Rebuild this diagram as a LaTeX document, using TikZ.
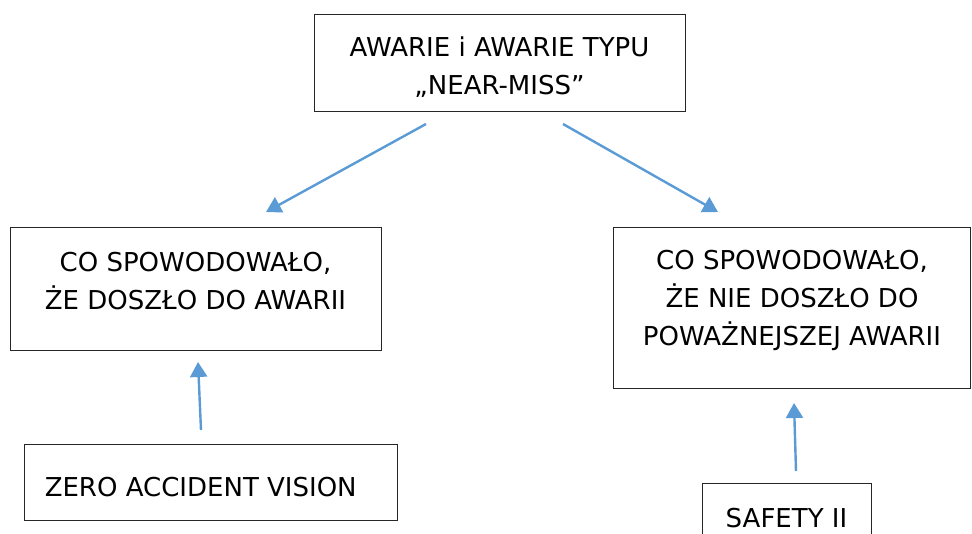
\documentclass[tikz,border=0pt]{standalone}
\usepackage{fontspec}
\setmainfont{DejaVu Sans}
\usetikzlibrary{arrows.meta}
\definecolor{arrowblue}{RGB}{91,155,213}
\begin{document}
\begin{tikzpicture}[x=1pt,y=1pt,
    box/.style={draw=black!85, line width=0.9pt, inner sep=0pt},
    txt/.style={anchor=north, align=center, inner sep=0pt,
        font=\fontsize{26}{38}\selectfont, execute at begin node=\strut},
    link/.style={draw=arrowblue, line width=2.4pt, -{Triangle[length=15pt,width=17pt]}}]
        \useasboundingbox (0,0) rectangle (972,533);

        \node[box, minimum width=371, minimum height=97] (top) at (499.5,470.5) {};
        \node[box, minimum width=371, minimum height=123] (cause) at (195.5,244.5) {};
        \node[box, minimum width=357, minimum height=161] (saved) at (792,225.5) {};
        \node[box, minimum width=373, minimum height=76] (zero) at (210.5,51) {};
        \node[box, minimum width=169, minimum height=70] (safety) at (786.5,15) {};

        \node[txt] (top text) at ([yshift=-23]top.north) {AWARIE i AWARIE TYPU\\„NEAR-MISS”};
        \node[txt] (cause text) at ([yshift=-25]cause.north) {CO SPOWODOWAŁO,\\ŻE DOSZŁO DO AWARII};
        \node[txt] (saved text) at ([yshift=-23]saved.north) {CO SPOWODOWAŁO,\\ŻE NIE DOSZŁO DO\\POWAŻNEJSZEJ AWARII};
        \node[txt, anchor=north west] (zero text) at ([xshift=21,yshift=-26]zero.north west) {ZERO ACCIDENT VISION};
        \node[txt] (safety text) at ([yshift=-18]safety.north) {SAFETY II};

        \coordinate (a1) at (426,409);
        \coordinate (a2) at (266,321);
        \coordinate (b1) at (563,409);
        \coordinate (b2) at (718,321);
        \coordinate (c1) at (201,103);
        \coordinate (c2) at (198,171);
        \coordinate (d1) at (796,62);
        \coordinate (d2) at (794,130);

        \draw[link] (a1) -- (a2);
        \draw[link] (b1) -- (b2);
        \draw[link] (c1) -- (c2);
        \draw[link] (d1) -- (d2);

    \end{tikzpicture}
\end{document}
